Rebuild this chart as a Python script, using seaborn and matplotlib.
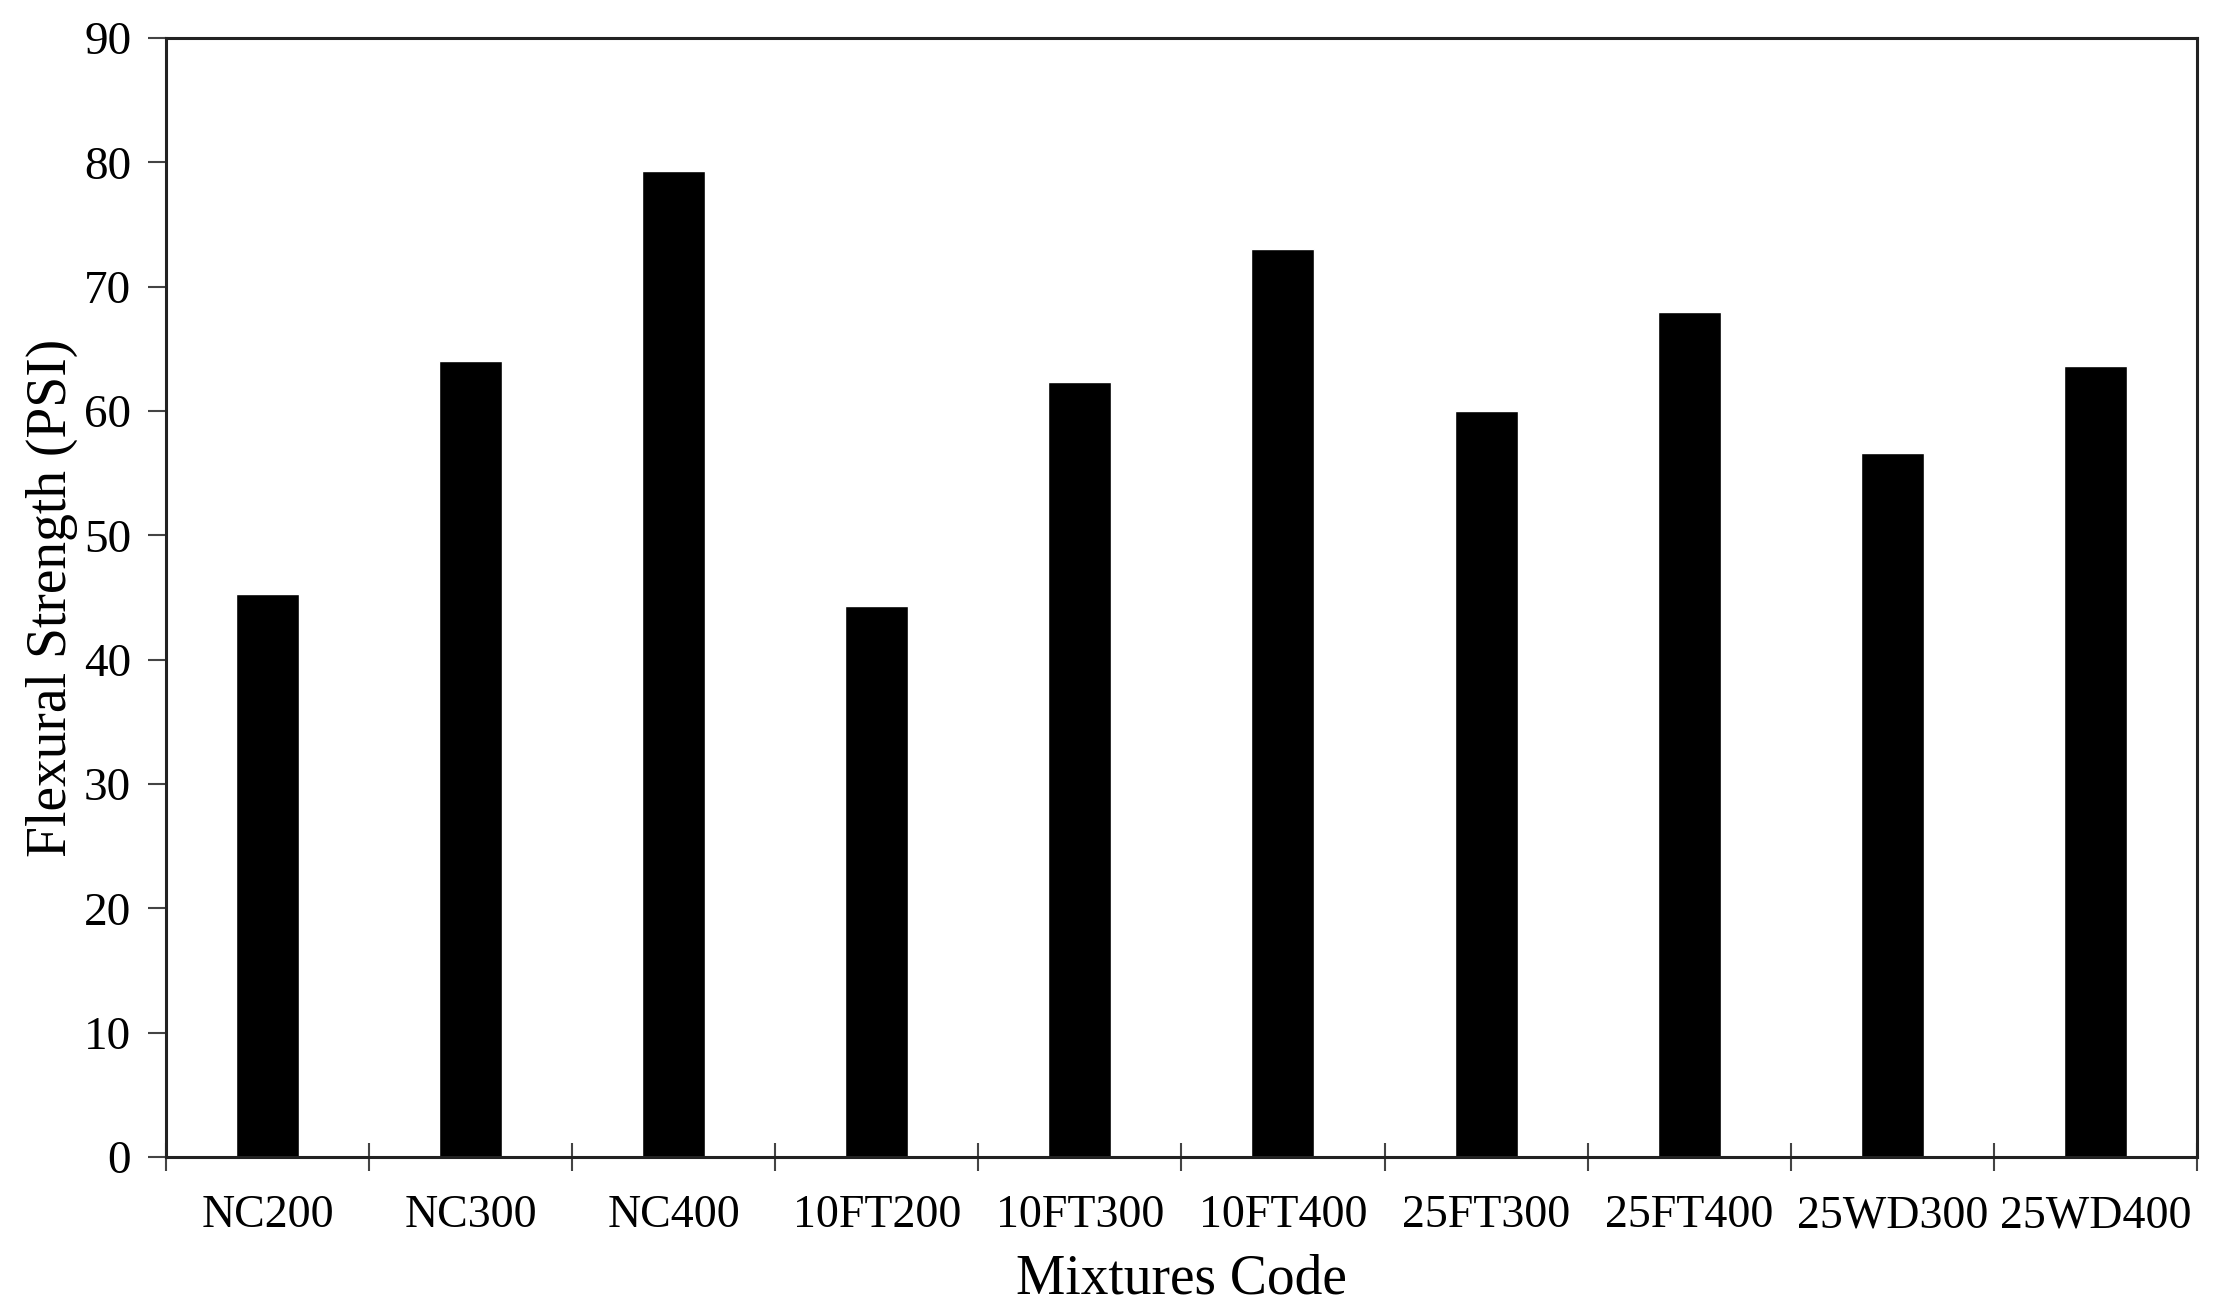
import matplotlib
matplotlib.use("Agg")
import matplotlib.pyplot as plt
import seaborn as sns
import pandas as pd
import numpy as np

sns.set_theme(style="white")
plt.rcParams['font.family'] = ['Liberation Serif', 'DejaVu Serif']

mixtures = ["NC200", "NC300", "NC400", "10FT200", "10FT300", "10FT400",
            "25FT300", "25FT400", "25WD300", "25WD400"]
strength = [45.3, 64.0, 79.3, 44.3, 62.3, 73.0, 60.0, 68.0, 56.6, 63.6]

df = pd.DataFrame({"Mixture": mixtures, "Strength": strength})

fig = plt.figure(figsize=(22.18, 13.12), dpi=100)
ax = fig.add_axes([0.0748, 0.1181, 0.9157, 0.8529])

sns.barplot(data=df, x="Mixture", y="Strength", color="black", width=0.31,
            saturation=1, ax=ax)

ax.set_xlim(-0.5, len(mixtures) - 0.5)
ax.set_ylim(0, 90)
ax.set_yticks(range(0, 91, 10))
ax.set_xticks(np.arange(len(mixtures)))
ax.set_xticklabels(mixtures)
ax.set_xticks(np.arange(-0.5, len(mixtures)), minor=True)

for s in ax.spines.values():
    s.set_visible(True)
    s.set_color("#222222")
    s.set_linewidth(2.2)

ax.tick_params(axis="x", which="major", length=0, pad=27, labelsize=33, colors="black")
ax.tick_params(axis="x", which="minor", direction="inout", length=20, width=1.5,
               color="#444444", bottom=True)
ax.tick_params(axis="y", which="major", direction="out", length=13, width=1.5,
               color="#444444", pad=12, labelsize=34, left=True)
for lab in ax.get_yticklabels():
    lab.set_color("black")

ax.set_xlabel("Mixtures Code", fontsize=40, labelpad=12, color="black")
ax.set_ylabel("Flexural Strength (PSI)", fontsize=40, labelpad=4, color="black")

fig.savefig("out.png", dpi=100, facecolor="white")
